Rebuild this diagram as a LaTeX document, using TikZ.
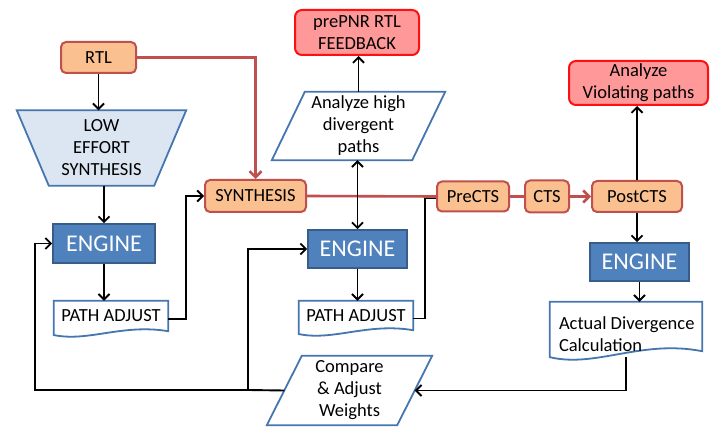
\documentclass[tikz,border=0pt]{standalone}
\usepackage{fontspec}
\setmainfont{Carlito}
\usetikzlibrary{arrows.meta,calc}
\pgfdeclarelayer{paper}
\pgfdeclarelayer{shapes}
\pgfsetlayers{paper,shapes,main}
\definecolor{peach}{HTML}{FAC090}
\definecolor{redline}{HTML}{C0504D}
\definecolor{pinkfill}{HTML}{FF9999}
\definecolor{brightred}{HTML}{FF1010}
\definecolor{engfill}{HTML}{4F81BD}
\definecolor{engdraw}{HTML}{385D8A}
\definecolor{lowfill}{HTML}{DCE6F2}
\definecolor{blueline}{HTML}{4676B0}
\newcommand\docpath[2]{%
  \draw[docline] (#1.north west) -- (#1.north east) -- (#1.south east)
    .. controls ($(#1.south west)!0.6!(#1.south east)+(0,-0.7*#2)$)
    and ($(#1.south west)!0.3!(#1.south east)+(0,#2)$)
    .. ($(#1.south west)+(0,0.35*#2)$) -- cycle;}
\newcommand\parapath[2]{%
  \draw[docline] ([xshift=#2]#1.north west) -- (#1.north east)
    -- ([xshift=-#2]#1.south east) -- (#1.south west) -- cycle;}
\tikzset{
  every node/.style={font=\fontsize{18.5}{22}\selectfont, align=center, inner sep=0pt},
  orbox/.style={draw=redline, fill=peach, line width=2pt, rounded corners=5pt, minimum height=31pt},
  pkbox/.style={draw=brightred, fill=pinkfill, line width=2pt, rounded corners=7pt},
  engbox/.style={draw=engdraw, fill=engfill, line width=1.6pt, text=white,
    font=\fontsize{24}{28}\selectfont, minimum width=100pt, minimum height=38pt},
  docline/.style={draw=blueline, fill=white, line width=1.8pt},
  lowline/.style={draw=blueline, fill=lowfill, line width=1.8pt},
  arr/.style={-{Straight Barb[length=5.5pt,width=11pt]}, line width=1.9pt},
  plainline/.style={line width=1.9pt},
  redln/.style={draw=redline, line width=2.6pt},
  redarr/.style={redln, -{Straight Barb[length=6pt,width=12pt]}},
  dblarr/.style={{Straight Barb[length=5.5pt,width=11pt]}-{Straight Barb[length=5.5pt,width=11pt]}, line width=1.9pt},
}
\begin{document}
\begin{tikzpicture}[x=1pt,y=-1pt]
\begin{pgfonlayer}{paper}
\fill[white] (0,0) rectangle (717,430);
\end{pgfonlayer}
\useasboundingbox (0,0) rectangle (717,430);

% nodes
\node[orbox, minimum width=75pt] (rtl) at (98.5,57.5) {RTL};
\node[minimum width=169pt, minimum height=75pt] (low) at (101.5,148) {LOW\\EFFORT\\SYNTHESIS};
\node[engbox, minimum width=102pt, minimum height=39pt] (eng1) at (104,243.5) {ENGINE};
\node[minimum width=114pt, minimum height=30pt] (pa1) at (111,316) {PATH ADJUST};
\node[orbox, minimum width=101pt, minimum height=32pt] (syn) at (255.5,196) {SYNTHESIS};
\node[minimum width=173pt, minimum height=68pt] (ahd) at (358.5,126) {Analyze high\\divergent\\paths};
\node[pkbox, minimum width=124pt, minimum height=45pt] (pnr) at (357,32.5) {prePNR RTL\\FEEDBACK};
\node[engbox, minimum width=99pt] (eng2) at (357.5,249) {ENGINE};
\node[minimum width=114pt, minimum height=29pt] (pa2) at (356,315.5) {PATH ADJUST};
\node[orbox, minimum width=72pt, minimum height=30pt] (prects) at (473,196.5) {PreCTS};
\node[orbox, minimum width=44pt, minimum height=32pt] (cts) at (547,196.5) {CTS};
\node[orbox, minimum width=90pt] (postcts) at (637,196.5) {PostCTS};
\node[pkbox, minimum width=139pt, minimum height=44pt] (avp) at (638.5,83) {Analyze\\Violating paths};
\node[engbox, minimum width=99pt] (eng3) at (639.5,262) {ENGINE};
\node[minimum width=152pt, minimum height=49pt] (adc) at (626,326.5) {};
\node[anchor=west, align=left] (adctext) at ($(adc.west)+(9,8)$) {Actual Divergence\\Calculation};
\node[minimum width=165pt, minimum height=69pt] (cmp) at (349.5,390.5) {Compare\\\& Adjust\\Weights};

% outlines behind the text
\begin{pgfonlayer}{shapes}
  \draw[lowline] (low.north west) -- (low.north east) -- ([xshift=-32pt]low.south east)
     -- ([xshift=32pt]low.south west) -- cycle;
  \docpath{pa1}{11}
  \docpath{pa2}{11}
  \docpath{adc}{17}
  \parapath{ahd}{33pt}
  \parapath{cmp}{35pt}
\end{pgfonlayer}

\coordinate (cmpR) at ($(cmp.north east)!0.5!([xshift=-35pt]cmp.south east)$);
\coordinate (cmpL) at ($(cmp.south west)!0.5!([xshift=35pt]cmp.north west)$);
\coordinate (fbA) at (35,390);
\coordinate (fbB) at (248,390);

% red flow
\draw[redarr] (rtl.east) -| (syn.north);
\draw[redln] (syn.east) -- (prects.west);
\draw[redln] (prects.east) -- (cts.west);
\draw[redarr] (cts.east) -- (postcts.west);

% black connectors
\draw[arr] (rtl.south) -- (rtl.south |- low.north);
\draw[arr] (eng1.north |- low.south) -- (eng1.north);
\draw[arr] (eng1.south) -- (eng1.south |- pa1.north);
\draw[arr] ([yshift=-3pt]pa1.east) -- ++(18,0) |- (syn.west);
\draw[arr] (ahd.north) -- (ahd.north |- pnr.south);
\draw[dblarr] (eng2.north |- ahd.south) -- (eng2.north);
\draw[arr] (eng2.south) -- (eng2.south |- pa2.north);
\draw[plainline] ([yshift=-3pt]pa2.east) -- ++(12,0) |- ([yshift=-2pt]prects.west);
\draw[arr] (postcts.north) -- (postcts.north |- avp.south);
\draw[arr] (postcts.south) -- (postcts.south |- eng3.north);
\draw[arr] (eng3.south) -- (eng3.south |- adc.north);
\draw[arr] ($(adc.south)+(0,6)$) |- (cmpR);
\draw[plainline] (cmpL) -- (fbB);
\draw[arr] (fbB) -- (fbA) |- (eng1.west);
\draw[arr] (fbB) |- (eng2.west);
\end{tikzpicture}
\end{document}
